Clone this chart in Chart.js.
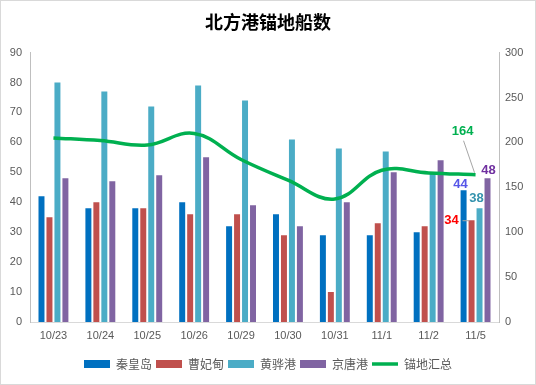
<!DOCTYPE html>
<html lang="zh">
<head>
<meta charset="UTF-8">
<title>北方港锚地船数</title>
<script src="https://cdn.jsdelivr.net/npm/chart.js"></script>
<style>
  body { margin: 0; background: #fff; }
  #wrap { width: 536px; height: 385px; }
</style>
</head>
<body>
<div id="wrap"><canvas id="c" width="536" height="385"></canvas></div>
<script>
const dates = ['10/23', '10/24', '10/25', '10/26', '10/29', '10/30', '10/31', '11/1', '11/2', '11/5'];
const qinhuangdao = [42, 38, 38, 40, 32, 36, 29, 29, 30, 44];
const caofeidian = [35, 40, 38, 36, 36, 29, 10, 33, 32, 34];
const huanghua = [80, 77, 72, 79, 74, 61, 58, 57, 50, 38];
const jingtang = [48, 47, 49, 55, 39, 32, 40, 50, 54, 48];
const anchorTotal = [205, 202, 197, 210, 181, 158, 137, 169, 166, 164];

const font = '"Liberation Sans", Arial, sans-serif';
const cjk = '"Noto Sans CJK SC", sans-serif';

// labels on the last group, like the excel chart
const lastLabels = {
  id: 'lastLabels',
  afterDatasetsDraw(chart) {
    const ctx = chart.ctx;
    const pick = (i) => {
      const m = chart.getDatasetMeta(i);
      return m.data[m.data.length - 1];
    };
    ctx.save();
    ctx.font = 'bold 13px ' + font;
    ctx.textAlign = 'center';
    ctx.textBaseline = 'middle';

    let p = pick(0);
    ctx.fillStyle = '#5656E8';
    ctx.fillText(qinhuangdao[9], p.x - 3, p.y - 6);

    p = pick(1);
    ctx.fillStyle = '#FF0000';
    ctx.fillText(caofeidian[9], p.x - 20, p.y);
    ctx.strokeStyle = '#A6A6A6';
    ctx.lineWidth = 1;
    ctx.beginPath();
    ctx.moveTo(p.x - 9, p.y + 0.5);
    ctx.lineTo(p.x - 2, p.y + 0.5);
    ctx.stroke();

    p = pick(2);
    ctx.fillStyle = '#3593AE';
    ctx.fillText(huanghua[9], p.x - 3, p.y - 10);

    p = pick(3);
    ctx.fillStyle = '#7030A0';
    ctx.fillText(jingtang[9], p.x + 1, p.y - 8);

    p = pick(4);
    ctx.beginPath();
    ctx.moveTo(p.x - 12, p.y - 34);
    ctx.lineTo(p.x - 1, p.y - 2);
    ctx.stroke();
    ctx.fillStyle = '#00B050';
    ctx.fillText(anchorTotal[9], p.x - 13, p.y - 43);
    ctx.restore();
  },
  beforeDraw(chart) {
    const ctx = chart.ctx;
    ctx.save();
    ctx.fillStyle = '#fff';
    ctx.fillRect(0, 0, chart.width, chart.height);
    ctx.strokeStyle = '#D9D9D9';
    ctx.strokeRect(0.5, 0.5, chart.width - 1, chart.height - 1);
    ctx.restore();
  }
};

const barOpts = { yAxisID: 'y', order: 1, pointStyle: 'rect', barPercentage: 0.75, categoryPercentage: 0.68 };

new Chart(document.getElementById('c'), {
  data: {
    labels: dates,
    datasets: [
      Object.assign({ type: 'bar', label: '秦皇岛', data: qinhuangdao, backgroundColor: '#0070C0' }, barOpts),
      Object.assign({ type: 'bar', label: '曹妃甸', data: caofeidian, backgroundColor: '#C0504D' }, barOpts),
      Object.assign({ type: 'bar', label: '黄骅港', data: huanghua, backgroundColor: '#4BACC6' }, barOpts),
      Object.assign({ type: 'bar', label: '京唐港', data: jingtang, backgroundColor: '#8064A2' }, barOpts),
      {
        type: 'line', label: '锚地汇总', data: anchorTotal, yAxisID: 'y1', order: 0,
        borderColor: '#00B050', backgroundColor: '#00B050', borderWidth: 3.5,
        pointRadius: 0, tension: 0.4, pointStyle: 'line'
      }
    ]
  },
  options: {
    responsive: false,
    animation: false,
    layout: { padding: { top: 0, left: 0, right: 0, bottom: 5 } },
    plugins: {
      title: {
        display: true,
        text: '北方港锚地船数',
        color: '#000',
        font: { family: cjk, size: 18, weight: 'bold' },
        padding: { top: 11, bottom: 20 }
      },
      legend: {
        position: 'bottom',
        labels: {
          usePointStyle: true,
          pointStyleWidth: 26,
          boxHeight: 8,
          padding: 4,
          color: '#595959',
          font: { family: cjk, size: 12 },
          sort: (a, b) => a.datasetIndex - b.datasetIndex
        }
      },
      tooltip: { enabled: false }
    },
    scales: {
      x: {
        grid: { display: false, drawTicks: false },
        border: { display: true, color: '#D9D9D9' },
        ticks: { color: '#595959', font: { family: font, size: 11 }, padding: 7 },
        afterFit: (s) => { s.height = 32; }
      },
      y: {
        position: 'left',
        min: 0, max: 90,
        grid: { display: false, drawTicks: false },
        border: { display: true, color: '#BFBFBF' },
        ticks: { stepSize: 10, color: '#595959', font: { family: font, size: 11 }, padding: 8 },
        afterFit: (s) => { s.width = 30; }
      },
      y1: {
        position: 'right',
        min: 0, max: 300,
        grid: { display: false, drawTicks: false },
        border: { display: true, color: '#BFBFBF' },
        ticks: { stepSize: 50, color: '#595959', font: { family: font, size: 11 }, padding: 6 },
        afterFit: (s) => { s.width = 37; }
      }
    }
  },
  plugins: [lastLabels]
});
</script>
</body>
</html>
